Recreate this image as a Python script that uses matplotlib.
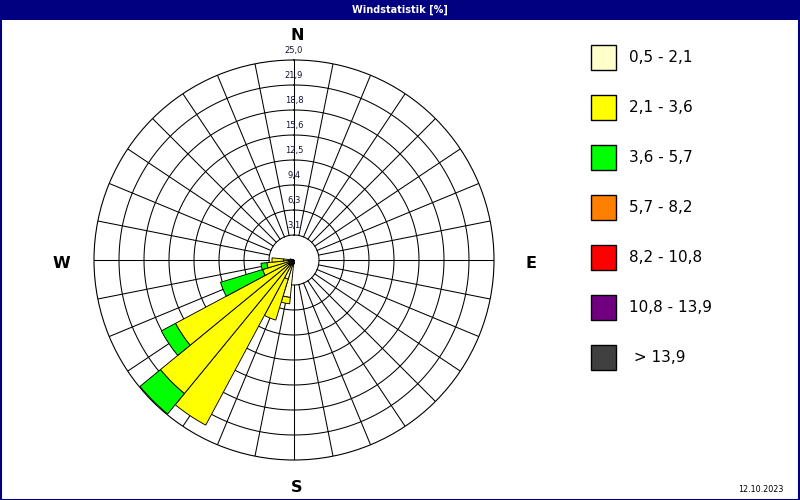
import numpy as np
import matplotlib
matplotlib.use("Agg")
import matplotlib.pyplot as plt
from matplotlib.patches import Rectangle

# ---------------- data ----------------
directions_deg = [180.0, 191.25, 202.5, 213.75, 225.0, 236.25, 247.5, 258.75, 270.0, 281.25]
cls_05_21 = [0.5, 4.7, 2.5, 0.8, 0.8, 0.8, 0.6, 0.6, 1.3, 0.5]
cls_21_36 = [0.0, 0.8, 5.35, 22.6, 20.8, 16.0, 3.5, 2.8, 1.45, 0.0]
cls_36_57 = [0.0, 0.0, 0.0, 0.0, 3.3, 2.0, 5.5, 0.75, 0.0, 0.0]
cls_57_82 = [0.0] * 10
cls_82_108 = [0.0] * 10
cls_108_139 = [0.0] * 10
cls_gt_139 = [0.0] * 10

class_labels = ["0,5 - 2,1", "2,1 - 3,6", "3,6 - 5,7", "5,7 - 8,2",
                "8,2 - 10,8", "10,8 - 13,9", " > 13,9"]
class_colors = ["#FFFFCC", "#FFFF00", "#00FF00", "#FF8000",
                "#FF0000", "#700080", "#404040"]

ring_values = [3.125, 6.25, 9.375, 12.5, 15.625, 18.75, 21.875, 25.0]
ring_labels = ["3,1", "6,3", "9,4", "12,5", "15,6", "18,8", "21,9", "25,0"]
n_sectors = 32
compass = ["N", "E", "S", "W"]
title = "Windstatistik [%]"
date_text = "12.10.2023"

# ---------------- figure ----------------
W, H = 800, 500
fig = plt.figure(figsize=(8, 5), dpi=100)
fig.patch.set_facecolor("white")
NAVY = "#000080"


def fx(x):
    return x / W


def fy(y):
    return 1 - y / H


# title bar and border
fig.add_artist(Rectangle((0, fy(20)), 1, 20 / H, transform=fig.transFigure,
                         facecolor=NAVY, edgecolor="none", zorder=0))
fig.add_artist(Rectangle((0.5 / W, 0.5 / H), 1 - 1.5 / W, 1 - 1.5 / H,
                         transform=fig.transFigure, facecolor="none",
                         edgecolor=NAVY, linewidth=1.5, zorder=10))
fig.text(0.5, fy(10), title, color="white", fontsize=7, ha="center",
         va="center", fontweight="bold", family="DejaVu Sans")

# polar axes: centre (294, 260) px, radius 200 px
cx, cy, R = 294, 260, 200
ax = fig.add_axes([fx(cx - R), fy(cy + R), 2 * R / W, 2 * R / H], projection="polar")
ax.set_theta_zero_location("N")
ax.set_theta_direction(-1)
ax.set_ylim(0, 25)
ax.set_xticks([])
ax.set_yticks([])
ax.grid(False)
ax.spines["polar"].set_color("black")
ax.spines["polar"].set_linewidth(0.8)
ax.set_facecolor("white")

# rings
tt = np.linspace(0, 2 * np.pi, 721)
for rv in ring_values[:-1]:
    ax.plot(tt, np.full_like(tt, rv), color="black", lw=0.75, zorder=1)
# spokes (outside the inner circle)
for k in range(n_sectors):
    th = 2 * np.pi * k / n_sectors
    ax.plot([th, th], [ring_values[0], ring_values[-1]], color="black", lw=0.75, zorder=1)

# ring labels
for rv, lab in zip(ring_values, ring_labels):
    ax.text(0, rv + 1.2, lab, ha="center", va="center", fontsize=6,
            color="#141436", zorder=2, clip_on=False)

# stacked bars
theta = np.deg2rad(directions_deg)
width = np.deg2rad(360 / n_sectors)
classes = [cls_05_21, cls_21_36, cls_36_57, cls_57_82, cls_82_108, cls_108_139, cls_gt_139]
bottom = np.zeros(len(directions_deg))
for vals, col in zip(classes, class_colors):
    vals = np.asarray(vals)
    mask = vals > 0
    if mask.any():
        ax.bar(theta[mask], vals[mask], width=width, bottom=bottom[mask],
               color=col, edgecolor="black", linewidth=0.65, zorder=3, align="center")
    bottom = bottom + vals

# compass labels
comp_pos = {"N": (297, 36), "E": (531, 264), "S": (297, 487), "W": (61, 264)}
for c in compass:
    x, y = comp_pos[c]
    fig.text(fx(x), fy(y), c, fontsize=11.5, fontweight="bold", ha="center",
             va="center", color="black")

# legend
for i, (lab, col) in enumerate(zip(class_labels, class_colors)):
    top = 45 + 50 * i
    fig.add_artist(Rectangle((fx(591), fy(top + 25)), 25 / W, 25 / H,
                             transform=fig.transFigure, facecolor=col,
                             edgecolor="black", linewidth=1.0))
    fig.text(fx(629), fy(top + 12.5), lab, fontsize=11, ha="left",
             va="center", color="black")

fig.text(fx(784), fy(489), date_text, fontsize=5.8, ha="right", va="center",
         color="black")

fig.savefig("out.png", dpi=100)
